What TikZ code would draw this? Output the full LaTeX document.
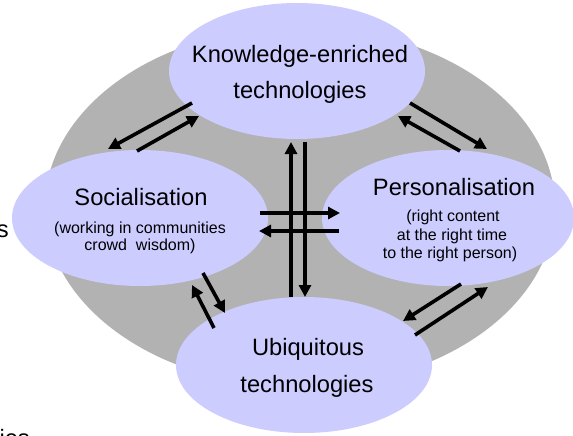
\documentclass[tikz,border=0pt]{standalone}
\usepackage{fontspec}
\setmainfont{Liberation Sans}
\usetikzlibrary{shapes.geometric,arrows.meta}
\definecolor{lav}{HTML}{CCCCFF}
\definecolor{greyfill}{HTML}{B2B2B2}
\begin{document}
\begin{tikzpicture}[x=1pt,y=-1pt,
  bubble/.style={ellipse, fill=lav, draw=none, minimum width=256pt, minimum height=136pt, inner sep=0pt},
  bigtext/.style={font=\fontsize{23.7}{28}\selectfont, anchor=base, inner sep=0pt},
  smalltext/.style={font=\fontsize{16}{19}\selectfont, anchor=base, inner sep=0pt},
  conn/.style={line width=3.6pt, -{Triangle[length=12pt,width=12pt]}}]
\useasboundingbox (0,0) rectangle (573,436);
\fill[greyfill] (300,207) ellipse [x radius=255pt, y radius=180pt];
% bubbles
\node[bubble] (know) at (297,71) {};
\node[bubble] (soc) at (140,218) {};
\node[bubble, minimum width=252pt] (pers) at (448,218) {};
\node[bubble] (ubi) at (304,365) {};
% texts
\node[bigtext] (t1a) at (300,63) {Knowledge-enriched};
\node[bigtext] (t1b) at (300,98) {technologies};
\node[bigtext] (t2a) at (141,205) {Socialisation};
\node[smalltext] (t2b) at (140,233) {(working in communities};
\node[smalltext] (t2c) at (140,250.5) {crowd\ \ wisdom)};
\node[bigtext] (t3a) at (454,195) {Personalisation};
\node[smalltext] (t3b) at (453,221.5) {(right content};
\node[smalltext] (t3c) at (452,240) {at the right time};
\node[smalltext] (t3d) at (450,258) {to the right person)};
\node[bigtext] (t4a) at (308,355) {Ubiquitous};
\node[bigtext] (t4b) at (307,392) {technologies};
\node[bigtext, anchor=base east] (cut1) at (9,237) {s};
\node[bigtext, anchor=base east] (cut2) at (30,446) {ries};
% connector end points
\coordinate (ks1) at (192,103); \coordinate (ks2) at (108,149);
\coordinate (sk1) at (137,151); \coordinate (sk2) at (199,116);
\coordinate (kp1) at (410,103); \coordinate (kp2) at (487,149);
\coordinate (pk1) at (460,151); \coordinate (pk2) at (398,116);
\coordinate (uk1) at (291,297); \coordinate (uk2) at (291,142);
\coordinate (ku1) at (305,142); \coordinate (ku2) at (305,297);
\coordinate (sp1) at (260,213); \coordinate (sp2) at (340,213);
\coordinate (ps1) at (339,231); \coordinate (ps2) at (259,231);
\coordinate (su1) at (203,273); \coordinate (su2) at (225,313);
\coordinate (us1) at (214,328); \coordinate (us2) at (192,285);
\coordinate (pu1) at (461,284); \coordinate (pu2) at (403,321);
\coordinate (up1) at (415,335); \coordinate (up2) at (488,287);
% connectors
\draw[conn] (ks1) -- (ks2);
\draw[conn] (sk1) -- (sk2);
\draw[conn] (kp1) -- (kp2);
\draw[conn] (pk1) -- (pk2);
\draw[conn] (uk1) -- (uk2);
\draw[conn] (ku1) -- (ku2);
\draw[conn] (sp1) -- (sp2);
\draw[conn] (ps1) -- (ps2);
\draw[conn] (su1) -- (su2);
\draw[conn] (us1) -- (us2);
\draw[conn] (pu1) -- (pu2);
\draw[conn] (up1) -- (up2);
\end{tikzpicture}
\end{document}
